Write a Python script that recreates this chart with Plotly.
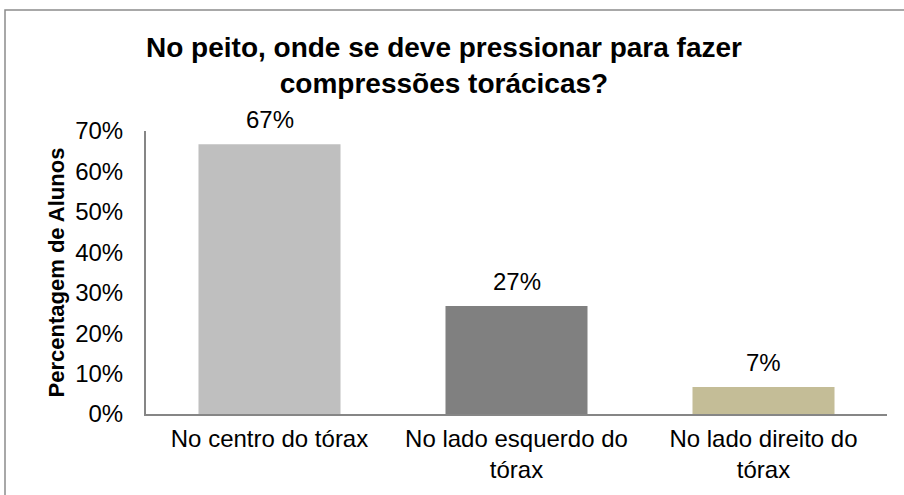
import plotly.graph_objects as go

categories = ["No centro do tórax", "No lado esquerdo do<br>tórax", "No lado direito do<br>tórax"]
values = [0.667, 0.267, 0.067]
colors = ["#BFBFBF", "#808080", "#C4BD97"]
y_ticks = [0, 0.1, 0.2, 0.3, 0.4, 0.5, 0.6, 0.7]
y_tick_labels = ["0%", "10%", "20%", "30%", "40%", "50%", "60%", "70%"]

font_family = "Liberation Sans, Arial, sans-serif"
FS = 24

fig = go.Figure(go.Bar(
    x=categories,
    y=values,
    marker=dict(color=colors, line=dict(width=0)),
    width=0.575,
    hoverinfo="skip",
))

for c, v in zip(categories, values):
    fig.add_annotation(x=c, y=v, text=f"{v:.0%}", showarrow=False,
                       xref="x", yref="y", yanchor="bottom", yshift=9,
                       font=dict(family=font_family, size=FS, color="#000000"))

fig.update_layout(
    width=904, height=495,
    margin=dict(l=146, r=17, t=131, b=81, autoexpand=False),
    paper_bgcolor="white", plot_bgcolor="white",
    showlegend=False,
    title=dict(
        text="<b>No peito, onde se deve pressionar para fazer<br>compressões torácicas?</b>",
        font=dict(family=font_family, size=28, color="#000000"),
        x=0.5 - 8/904, xref="container", xanchor="center",
        y=1 - 57/495, yref="container", yanchor="top",
        automargin=False,
    ),
    font=dict(family=font_family, size=FS, color="#000000"),
)

fig.update_yaxes(
    range=[0, 0.7],
    tickvals=y_ticks, ticktext=y_tick_labels,
    showgrid=False, zeroline=False, automargin=False,
    showline=True, linecolor="#868686", linewidth=2,
    ticks="", ticklabelstandoff=16,
    tickfont=dict(family=font_family, size=FS, color="#000000"),
    title=dict(text="<b>Percentagem de Alunos</b>", standoff=4,
               font=dict(family=font_family, size=22, color="#000000")),
)
fig.update_xaxes(
    showgrid=False, zeroline=False, automargin=False,
    showline=True, linecolor="#868686", linewidth=2,
    ticks="", ticklabelstandoff=2,
    tickfont=dict(family=font_family, size=FS, color="#000000"),
)

fig.add_shape(type="rect", xref="paper", yref="paper",
              x0=(5 - 146) / 741, x1=(920 - 146) / 741,
              y0=-(100) / 283, y1=(414 - 10) / 283,
              line=dict(color="#8C8C8C", width=1.5), fillcolor="rgba(0,0,0,0)",
              layer="below")

fig.write_html("out.html",
               config={"displayModeBar": False},
               post_script="document.body.style.margin='0';document.body.style.overflow='hidden';")
